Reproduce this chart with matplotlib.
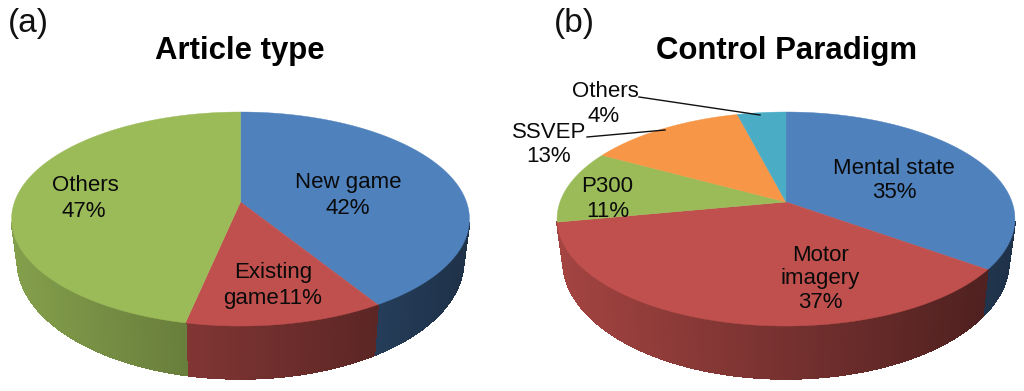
import numpy as np
import matplotlib
matplotlib.use("Agg")
import matplotlib.pyplot as plt
from matplotlib.collections import PolyCollection, LineCollection
from matplotlib.colors import to_rgb

plt.rcParams['font.family'] = ['Liberation Sans', 'DejaVu Sans']

# Data
a_title = "Article type"
a_labels = ["New game", "Existing game", "Others"]
a_printed = [42, 11, 47]            # percentages as printed on the chart
a_values = [41.2, 12.1, 46.7]       # slice sizes as drawn in the picture
a_colors = ["#4F81BD", "#C0504D", "#9BBB59"]

b_title = "Control Paradigm"
b_labels = ["Mental state", "Motor imagery", "P300", "SSVEP", "Others"]
b_values = [35, 37, 11, 13, 4]
b_colors = ["#4F81BD", "#C0504D", "#9BBB59", "#F79646", "#4BACC6"]

# Pie geometry (pixels)
A, B, K = 226.0, 104.3, 0.159
APEX_Y, TOP_CY, TOP_RY = 202.0, 220.0, 109.0
BOT_CY, BOT_RY, BOT_SX = 262.0, 120.0, 0.974
SHADE_L, SHADE_R = 0.85, 0.38
RX = 229.0


def rim(theta, cx):
    u, v = np.sin(theta), np.cos(theta)
    w = 1 + K * v
    return cx + A * u / w, APEX_Y - B * v / w


def lower(x, y, cx):
    return cx + BOT_SX * (x - cx), BOT_CY + (y - TOP_CY) * BOT_RY / TOP_RY


def shade(color, xrel):
    t = (xrel + RX) / (2 * RX)
    f = SHADE_L + (SHADE_R - SHADE_L) * t
    return tuple(c * f for c in to_rgb(color))


def draw_pie(ax, values, colors, cx):
    fractions = np.cumsum([0] + list(values)) / float(sum(values))
    for start, end, col in zip(fractions[:-1], fractions[1:], colors):
        n = max(2, int((end - start) * 720))
        th = 2 * np.pi * np.linspace(start, end, n + 1)
        x, y = rim(th, cx)
        xb, yb = lower(x, y, cx)
        polys, cols, segs = [], [], []
        for i in range(n):
            if max(y[i], y[i + 1]) < TOP_CY + 3:
                continue
            polys.append([(x[i], y[i]), (x[i + 1], y[i + 1]),
                          (xb[i + 1], yb[i + 1]), (xb[i], yb[i])])
            segs.append([(xb[i], yb[i]), (xb[i + 1], yb[i + 1])])
            cols.append(shade(col, 0.5 * (x[i] + x[i + 1]) - cx))
        if polys:
            ax.add_collection(PolyCollection(polys, facecolors=cols, edgecolors=cols,
                                             linewidths=0.8, antialiaseds=False, zorder=2))
            ax.add_collection(LineCollection(segs, colors=cols, linewidths=1.0, zorder=2))
    for start, end, col in zip(fractions[:-1], fractions[1:], colors):
        n = max(2, int((end - start) * 720))
        th = 2 * np.pi * np.linspace(start, end, n + 1)
        x, y = rim(th, cx)
        ax.fill(np.r_[cx, x], np.r_[APEX_Y, y], facecolor=col,
                edgecolor=col, linewidth=0.3, zorder=3)


fig = plt.figure(figsize=(10.24, 3.91), dpi=100, facecolor="white")
ax = fig.add_axes([0, 0, 1, 1])
ax.set_xlim(0, 1024)
ax.set_ylim(391, 0)
ax.axis("off")

draw_pie(ax, a_values, a_colors, 240.5)
draw_pie(ax, b_values, b_colors, 786.0)

LABEL = 16
ax.text(240, 59, a_title, fontsize=22.4, fontweight="bold", ha="center", va="baseline", color="black", zorder=5)
ax.text(786, 59, b_title, fontsize=22.4, fontweight="bold", ha="center", va="baseline", color="black", zorder=5)
ax.text(28, 32, "(a)", fontsize=24, ha="center", va="baseline", color="#111111", zorder=5)
ax.text(574, 32, "(b)", fontsize=24, ha="center", va="baseline", color="#111111", zorder=5)

texts = [
    (348, 188, f"{a_labels[0]}"), (348, 214, f"{a_printed[0]}%"),
    (273, 278, "Existing"), (273, 304, f"game{a_printed[1]}%"),
    (85, 191, f"{a_labels[2]}"), (84, 217, f"{a_printed[2]}%"),
    (894, 174, f"{b_labels[0]}"), (894, 198, f"{b_values[0]}%"),
    (820, 261, "Motor"), (820, 284, "imagery"), (820, 308, f"{b_values[1]}%"),
    (607, 192, f"{b_labels[2]}"), (608, 217, f"{b_values[2]}%"),
    (549, 138, f"{b_labels[3]}"), (549, 162, f"{b_values[3]}%"),
    (605, 97, f"{b_labels[4]}"), (604, 122, f"{b_values[4]}%"),
]
for x, y, s in texts:
    ax.text(x, y, s, fontsize=LABEL, ha="center", va="baseline", color="#0a0a0a", zorder=5)

ax.plot([639, 760], [97, 115], color="#111111", lw=1.0, zorder=4)
ax.plot([587, 665], [137, 130], color="#111111", lw=1.0, zorder=4)

fig.savefig("out.png", dpi=100, facecolor="white")
